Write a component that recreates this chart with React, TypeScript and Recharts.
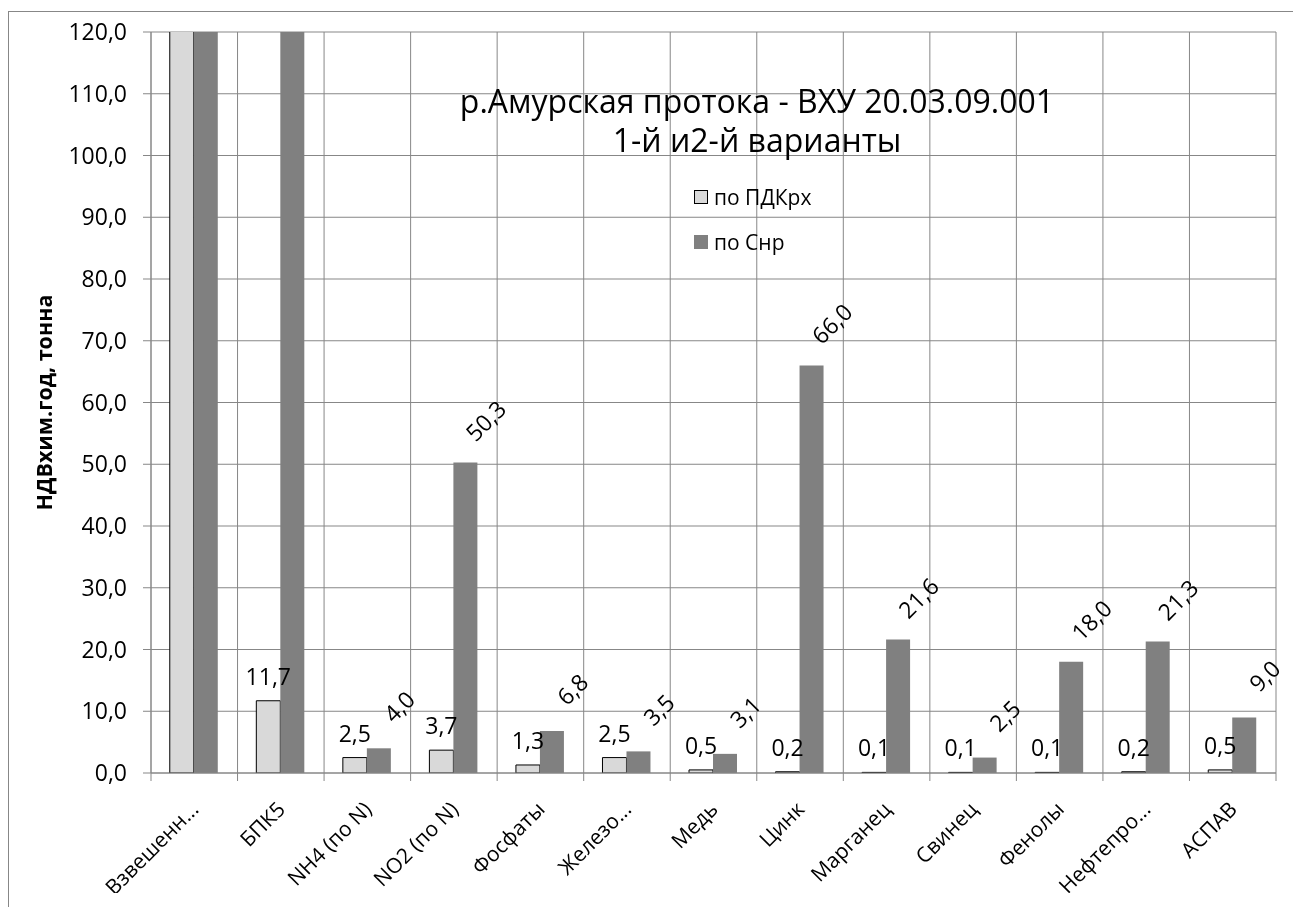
import { BarChart, Bar, XAxis, YAxis, CartesianGrid, Legend, LabelList } from "recharts";

const categories = [
  "Взвешенн...",
  "БПК5",
  "NH4 (по N)",
  "NO2 (по N)",
  "Фосфаты",
  "Железо...",
  "Медь",
  "Цинк",
  "Марганец",
  "Свинец",
  "Фенолы",
  "Нефтепро...",
  "АСПАВ",
];
// по ПДКрх / по Снр, тонн в год (первые столбцы выходят за шкалу)
const pdkValues = [180.0, 11.7, 2.5, 3.7, 1.3, 2.5, 0.5, 0.2, 0.1, 0.1, 0.1, 0.2, 0.5];
const snrValues = [260.0, 140.0, 4.0, 50.3, 6.8, 3.5, 3.1, 66.0, 21.6, 2.5, 18.0, 21.3, 9.0];
const yTicks = [0, 10, 20, 30, 40, 50, 60, 70, 80, 90, 100, 110, 120];
const titleLines = ["р.Амурская протока - ВХУ 20.03.09.001", "1-й и2-й варианты"];

const W = 1285;
const H = 885;
const M = { top: 24, right: 17, left: 0, bottom: 0 };
const Y_W = 143;
const X_H = 120;
const PLOT_W = W - M.left - M.right - Y_W;
const AXIS_Y = H - M.bottom - X_H;
const BAND = PLOT_W / categories.length;
const Y_MAX = 120;

const FONT = "'Open Sans', sans-serif";
const GRID = "#878787";
const NUM_SIZE = 23;

const data = categories.map((name, i) => ({
  name,
  pdk: pdkValues[i],
  snr: snrValues[i],
}));

const fmt = (v: number) => v.toFixed(1).replace(".", ",");

function CategoryTick(props: any) {
  const { x, payload, index } = props;
  const ty = AXIS_Y + 32;
  const left = x - BAND / 2;
  return (
    <g>
      <line x1={left} y1={AXIS_Y} x2={left} y2={AXIS_Y + 8} stroke={GRID} />
      {index === categories.length - 1 && (
        <line x1={left + BAND} y1={AXIS_Y} x2={left + BAND} y2={AXIS_Y + 8} stroke={GRID} />
      )}
      <text
        x={x}
        y={ty}
        textAnchor="end"
        dominantBaseline="central"
        transform={`rotate(-45, ${x}, ${ty})`}
        fontSize={21}
        fontFamily={FONT}
        fill="#000"
      >
        {payload.value}
      </text>
    </g>
  );
}

function PdkLabel(props: any) {
  const { x, y, width, value } = props;
  if (value > Y_MAX) return null;
  return (
    <text
      x={x + width / 2}
      y={y - 25}
      textAnchor="middle"
      dominantBaseline="central"
      fontSize={NUM_SIZE}
      fontFamily={FONT}
      fill="#000"
    >
      {fmt(value)}
    </text>
  );
}

function SnrLabel(props: any) {
  const { x, y, width, value } = props;
  if (value > Y_MAX) return null;
  const cx = x + width / 2 + 20;
  const cy = y - 42;
  return (
    <text
      x={cx}
      y={cy}
      textAnchor="middle"
      dominantBaseline="central"
      transform={`rotate(-45, ${cx}, ${cy})`}
      fontSize={NUM_SIZE}
      fontFamily={FONT}
      fill="#000"
    >
      {fmt(value)}
    </text>
  );
}

function AxisTitle(props: any) {
  const vb = props.viewBox || { x: 0, y: M.top, height: AXIS_Y - M.top };
  const cx = vb.x + 35;
  const cy = vb.y + vb.height / 2;
  return (
    <text
      x={cx}
      y={cy}
      textAnchor="middle"
      dominantBaseline="central"
      transform={`rotate(-90, ${cx}, ${cy})`}
      fontSize={21.5}
      fontWeight="bold"
      fontFamily={FONT}
      fill="#000"
    >
      НДВхим.год, тонна
    </text>
  );
}

function LegendBox(props: any) {
  const items = props.payload || [];
  return (
    <div style={{ fontFamily: FONT, fontSize: 21, color: "#000" }}>
      {items.map((it: any) => (
        <div key={it.value} style={{ display: "flex", alignItems: "center", height: 45 }}>
          <span
            style={{
              display: "inline-block",
              width: 14,
              height: 14,
              boxSizing: "border-box",
              background: it.color,
              border: it.dataKey === "pdk" ? "1.5px solid #000" : "none",
              marginRight: 6,
            }}
          />
          {it.value}
        </div>
      ))}
    </div>
  );
}

export default function App() {
  return (
    <div style={{ position: "relative", width: W, height: H }}>
      <div
        style={{
          position: "fixed",
          left: 8,
          top: 11,
          width: 1400,
          height: 1000,
          borderTop: `1px solid ${GRID}`,
          borderLeft: `1px solid ${GRID}`,
          pointerEvents: "none",
        }}
      />
      <div
        style={{
          position: "absolute",
          left: 757 - 8 - 400,
          top: 73,
          width: 800,
          textAlign: "center",
          fontFamily: FONT,
          fontSize: 32,
          lineHeight: "39px",
          color: "#000",
          zIndex: 2,
        }}
      >
        {titleLines.map((t) => (
          <div key={t} style={{ height: 39 }}>
            {t}
          </div>
        ))}
      </div>
      <BarChart
        width={W}
        height={H}
        data={data}
        margin={M}
        barCategoryGap="21.7%"
        barGap={0}
      >
        <CartesianGrid
          stroke={GRID}
          strokeWidth={1}
          horizontal
          vertical
          verticalCoordinatesGenerator={({ offset }: any) =>
            categories.map((_, i) => offset.left + i * BAND).concat(offset.left + PLOT_W)
          }
        />
        <XAxis
          dataKey="name"
          height={X_H}
          interval={0}
          tickLine={false}
          axisLine={{ stroke: GRID }}
          tick={<CategoryTick />}
        />
        <YAxis
          width={Y_W}
          domain={[0, Y_MAX]}
          ticks={yTicks}
          allowDataOverflow
          tickFormatter={(v: number) => fmt(v)}
          tickSize={8}
          tickMargin={16}
          tickLine={{ stroke: GRID }}
          axisLine={{ stroke: GRID }}
          tick={{ fill: "#000", fontSize: NUM_SIZE, fontFamily: FONT }}
          label={<AxisTitle />}
        />
        <Legend
          layout="vertical"
          align="center"
          verticalAlign="middle"
          content={<LegendBox />}
          wrapperStyle={{ left: 686, top: 166, width: 200, height: 90 }}
        />
        <Bar
          dataKey="pdk"
          name="по ПДКрх"
          fill="#d9d9d9"
          stroke="#000"
          strokeWidth={1}
          isAnimationActive={false}
        >
          <LabelList dataKey="pdk" content={<PdkLabel />} />
        </Bar>
        <Bar dataKey="snr" name="по Снр" fill="#808080" isAnimationActive={false}>
          <LabelList dataKey="snr" content={<SnrLabel />} />
        </Bar>
      </BarChart>
    </div>
  );
}
